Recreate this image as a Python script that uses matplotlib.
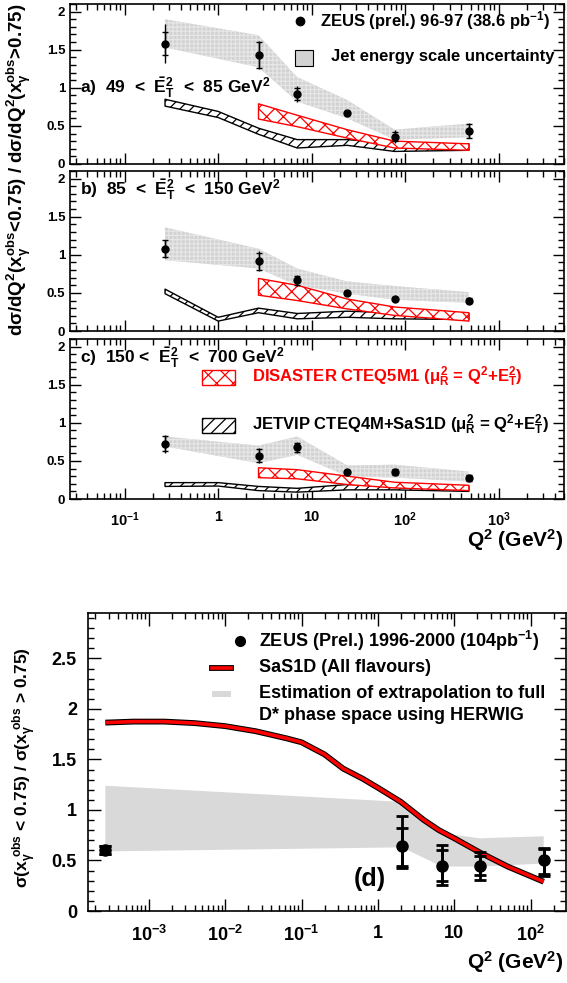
import numpy as np
import matplotlib
matplotlib.use("Agg")
import matplotlib.pyplot as plt
from matplotlib.patches import Rectangle
from matplotlib.lines import Line2D
from matplotlib.ticker import MultipleLocator, FuncFormatter, FixedLocator, NullFormatter

plt.rcParams['font.family'] = ['Liberation Sans', 'DejaVu Sans']
plt.rcParams['font.weight'] = 'bold'
plt.rcParams['mathtext.fontset'] = 'custom'
plt.rcParams['mathtext.rm'] = 'Liberation Sans:bold'
plt.rcParams['mathtext.it'] = 'Liberation Sans:bold'
plt.rcParams['mathtext.bf'] = 'Liberation Sans:bold'
plt.rcParams['hatch.linewidth'] = 0.9

W, H = 567.0, 983.0

# ---- panels a-c: ratio vs Q2 in Et bins ----
q2_pts = [0.27, 2.7, 7.0, 24, 77, 480]
ratio_a = [1.58, 1.43, 0.92, 0.665, 0.36, 0.435]
stat_a = [0.15, 0.17, 0.08, 0.025, 0.06, 0.09]
tot_a = [0.26, 0.18, 0.10, 0.03, 0.08, 0.10]
ratio_b = [1.08, 0.915, 0.665, 0.50, 0.425, 0.40]
stat_b = [0.11, 0.11, 0.06, 0.025, 0.02, 0.03]
tot_b = [0.12, 0.13, 0.07, 0.03, 0.03, 0.04]
ratio_c = [0.725, 0.57, 0.68, 0.355, 0.355, 0.275]
stat_c = [0.10, 0.09, 0.06, 0.02, 0.04, 0.035]
tot_c = [0.12, 0.10, 0.07, 0.02, 0.045, 0.04]

# jet energy scale band (at data points)
jes_hi_a = [1.90, 1.69, 1.14, 0.84, 0.45, 0.53]
jes_lo_a = [1.53, 1.27, 0.82, 0.60, 0.32, 0.35]
jes_hi_b = [1.36, 1.08, 0.82, 0.65, 0.59, 0.51]
jes_lo_b = [0.93, 0.82, 0.60, 0.49, 0.41, 0.37]
jes_hi_c = [0.82, 0.70, 0.82, 0.44, 0.45, 0.36]
jes_lo_c = [0.69, 0.47, 0.58, 0.30, 0.28, 0.23]

# JETVIP
q2_jv = [0.27, 1.0, 2.7, 7.0, 24, 77, 480]
jv_hi_a = [0.85, 0.69, 0.47, 0.32, 0.32, 0.27, 0.265]
jv_lo_a = [0.76, 0.61, 0.39, 0.21, 0.245, 0.165, 0.18]
jv_hi_b = [0.55, 0.18, 0.30, 0.23, 0.26, 0.24, 0.23]
jv_lo_b = [0.49, 0.13, 0.24, 0.16, 0.18, 0.16, 0.15]
jv_hi_c = [0.215, 0.215, 0.165, 0.14, 0.19, 0.18, 0.165]
jv_lo_c = [0.165, 0.17, 0.11, 0.09, 0.12, 0.12, 0.10]

# DISASTER
q2_ds = [2.7, 7.0, 24, 77, 480]
ds_hi_a = [0.79, 0.64, 0.45, 0.30, 0.265]
ds_lo_a = [0.59, 0.49, 0.34, 0.21, 0.18]
ds_hi_b = [0.69, 0.60, 0.42, 0.315, 0.24]
ds_lo_b = [0.47, 0.40, 0.29, 0.205, 0.13]
ds_hi_c = [0.41, 0.385, 0.30, 0.22, 0.18]
ds_lo_c = [0.28, 0.265, 0.19, 0.145, 0.11]

# ---- panel d ----
q2_d = [2.7e-4, 2.05, 6.9, 21.6, 148]
ratio_d = [0.60, 0.645, 0.45, 0.45, 0.50]
stat_d_up = [0.04, 0.18, 0.155, 0.09, 0.11]
stat_d_dn = [0.04, 0.20, 0.155, 0.09, 0.13]
tot_d_up = [0.04, 0.30, 0.20, 0.13, 0.12]
tot_d_dn = [0.04, 0.22, 0.19, 0.14, 0.155]

q2_band_d = [2.7e-4, 2.05, 6.9, 21.6, 148]
band_hi_d = [1.24, 1.08, 0.77, 0.72, 0.74]
band_lo_d = [0.59, 0.63, 0.44, 0.44, 0.47]

q2_sas = [2.7e-4, 6.3e-4, 1.6e-3, 4.0e-3, 0.01, 0.025, 0.063, 0.1, 0.2,
          0.35, 0.63, 1.0, 2.0, 4.0, 6.3, 10, 21.5, 50, 148]
sas = [1.865, 1.875, 1.875, 1.86, 1.83, 1.78, 1.71, 1.67, 1.55,
       1.41, 1.31, 1.22, 1.08, 0.90, 0.80, 0.72, 0.58, 0.44, 0.29]

# tick decades shown
dec_top = [0.1, 1, 10, 100, 1000]
dec_d = [1e-3, 1e-2, 0.1, 1, 10, 100]

JES_COL = '#d2d2d2'


def px_box(x0, y0, x1, y1):
    return [x0 / W, 1 - y1 / H, (x1 - x0) / W, (y1 - y0) / H]


def decade_fmt(v, pos):
    if abs(v - 1) < 1e-9:
        return '1'
    if abs(v - 10) < 1e-9:
        return '10'
    e = int(round(np.log10(v)))
    return r'$\mathbf{10^{%d}}$' % e


def minor_ticks(lo, hi):
    out = []
    for e in range(int(np.floor(np.log10(lo))), int(np.ceil(np.log10(hi))) + 1):
        for s in range(2, 10):
            v = s * 10.0 ** e
            if lo <= v <= hi:
                out.append(v)
    return out


def style(ax, ylen=9, lab=8):
    ax.tick_params(which='both', direction='in', top=True, right=True, width=1, labelsize=lab)
    ax.tick_params(which='major', length=ylen)
    ax.tick_params(which='minor', length=ylen / 2)
    for s in ax.spines.values():
        s.set_linewidth(1.2)


fig = plt.figure(figsize=(W / 100, H / 100), dpi=100)

top_axes = []
boxes = [(70, 4, 564, 164), (70, 171, 564, 331), (70, 339, 564, 499)]
data = [
    (ratio_a, stat_a, tot_a, jes_hi_a, jes_lo_a, jv_hi_a, jv_lo_a, ds_hi_a, ds_lo_a),
    (ratio_b, stat_b, tot_b, jes_hi_b, jes_lo_b, jv_hi_b, jv_lo_b, ds_hi_b, ds_lo_b),
    (ratio_c, stat_c, tot_c, jes_hi_c, jes_lo_c, jv_hi_c, jv_lo_c, ds_hi_c, ds_lo_c),
]
for i, (b, d) in enumerate(zip(boxes, data)):
    ax = fig.add_axes(px_box(*b))
    r, st, tt, jh, jl, vh, vl, dh, dl = d
    ax.fill_between(q2_pts, jl, jh, facecolor=JES_COL, edgecolor='#e6e6e6', hatch='++++', lw=0, zorder=1)
    ax.fill_between(q2_jv, vl, vh, facecolor='white', edgecolor='black', hatch='///', lw=1.0, zorder=2)
    ax.fill_between(q2_ds, dl, dh, facecolor='white', edgecolor='red', hatch='xx', lw=1.0, zorder=3)
    ax.errorbar(q2_pts, r, yerr=tt, fmt='none', ecolor='black', elinewidth=1, zorder=4)
    ax.errorbar(q2_pts, r, yerr=st, fmt='o', color='black', ms=5, elinewidth=1,
                capsize=2.5, capthick=1, zorder=5)
    ax.set_xscale('log')
    ax.set_xlim(0.026, 5000)
    ax.set_ylim(0, 2.1)
    ax.yaxis.set_major_locator(MultipleLocator(0.5))
    ax.yaxis.set_minor_locator(MultipleLocator(0.1))
    ax.yaxis.set_major_formatter(FuncFormatter(lambda v, p: '%g' % v))
    ax.xaxis.set_major_locator(FixedLocator(dec_top))
    ax.xaxis.set_minor_locator(FixedLocator(minor_ticks(0.026, 5000)))
    ax.xaxis.set_minor_formatter(NullFormatter())
    style(ax, ylen=8, lab=9.5)
    if i < 2:
        ax.xaxis.set_major_formatter(NullFormatter())
    else:
        ax.xaxis.set_major_formatter(FuncFormatter(decade_fmt))
        ax.tick_params(axis='x', which='major', pad=8, labelsize=10.5)
    top_axes.append(ax)

lbl = [r'a)  49  <  $\bar{E}^2_T$  <  85 GeV$^2$',
       r'b)  85  <  $\bar{E}^2_T$  <  150 GeV$^2$',
       r'c)  150 <  $\bar{E}^2_T$  <  700 GeV$^2$']
lbl_y = [84, 19, 19]
for ax, t, yy in zip(top_axes, lbl, lbl_y):
    ax.text(10 / 494, 1 - yy / 160, t, transform=ax.transAxes, fontsize=12.5, va='center', ha='left')

# legend panel a
fig.add_artist(Line2D([300 / W], [1 - 21 / H], marker='o', color='black', ms=6, transform=fig.transFigure))
fig.text(320 / W, 1 - 21 / H, r'ZEUS (prel.) 96-97 (38.6 pb$^{-1}$)', fontsize=12, va='center')
fig.add_artist(Rectangle((295 / W, 1 - 66 / H), 18 / W, 16 / H, facecolor=JES_COL,
                         edgecolor='black', lw=0.8, transform=fig.transFigure))
fig.text(331 / W, 1 - 57 / H, 'Jet energy scale uncertainty', fontsize=12, va='center')

# legend panel c
fig.add_artist(Rectangle((202 / W, 1 - 385 / H), 33 / W, 15 / H, facecolor='white', edgecolor='red',
                         hatch='xx', lw=1.0, transform=fig.transFigure))
fig.text(252 / W, 1 - 377 / H, r'DISASTER CTEQ5M1 ($\mu^2_R$ = Q$^2$+E$^2_T$)', fontsize=12,
         va='center', color='red')
fig.add_artist(Rectangle((202 / W, 1 - 433 / H), 33 / W, 15 / H, facecolor='white', edgecolor='black',
                         hatch='///', lw=1.0, transform=fig.transFigure))
fig.text(252 / W, 1 - 425 / H, r'JETVIP CTEQ4M+SaS1D ($\mu^2_R$ = Q$^2$+E$^2_T$)', fontsize=12,
         va='center', color='black')

fig.text(19 / W, 1 - 170 / H,
         r'd$\sigma$/dQ$^2$(x$_\gamma^{obs}$<0.75) / d$\sigma$/dQ$^2$(x$_\gamma^{obs}$>0.75)',
         rotation=90, fontsize=13.5, va='center', ha='center')
fig.text(563 / W, 1 - 540 / H, r'Q$^2$ (GeV$^2$)', fontsize=15, ha='right', va='center')

# ---- panel d ----
axd = fig.add_axes(px_box(88, 613, 566, 911))
axd.fill_between(q2_band_d, band_lo_d, band_hi_d, facecolor='#d9d9d9', lw=0, zorder=1)
axd.plot(q2_sas, sas, color='black', lw=4.2, zorder=2, solid_capstyle='butt')
axd.plot(q2_sas, sas, color='red', lw=2.6, zorder=3, solid_capstyle='butt')
yd = np.array(ratio_d)
axd.errorbar(q2_d, yd, yerr=[tot_d_dn, tot_d_up], fmt='none', ecolor='black', elinewidth=2,
             capsize=4, capthick=2, zorder=4)
axd.errorbar(q2_d, yd, yerr=[stat_d_dn, stat_d_up], fmt='o', color='black', ms=8, elinewidth=2,
             capsize=4, capthick=2, zorder=5)
axd.set_xscale('log')
axd.set_xlim(1.6e-4, 290)
axd.set_ylim(0, 2.95)
axd.yaxis.set_major_locator(MultipleLocator(0.5))
axd.yaxis.set_minor_locator(MultipleLocator(0.1))
axd.yaxis.set_major_formatter(FuncFormatter(lambda v, p: '%g' % v))
axd.xaxis.set_major_locator(FixedLocator(dec_d))
axd.xaxis.set_minor_locator(FixedLocator(minor_ticks(1.6e-4, 290)))
axd.xaxis.set_minor_formatter(NullFormatter())
axd.xaxis.set_major_formatter(FuncFormatter(decade_fmt))
style(axd, ylen=9, lab=13)
axd.tick_params(axis='x', which='major', pad=10)
axd.tick_params(axis='y', which='major', pad=8)

axd.text(282 / 478, 1 - 266 / 298, '(d)', transform=axd.transAxes, fontsize=18, ha='center', va='center')

fig.add_artist(Line2D([240 / W], [1 - 641 / H], marker='o', color='black', ms=7, transform=fig.transFigure))
fig.text(259 / W, 1 - 641 / H, r'ZEUS (Prel.) 1996-2000 (104pb$^{-1}$)', fontsize=13, va='center')
fig.add_artist(Line2D([212 / W, 231 / W], [1 - 668 / H] * 2, color='black', lw=4.2, transform=fig.transFigure))
fig.add_artist(Line2D([212 / W, 231 / W], [1 - 668 / H] * 2, color='red', lw=2.6, transform=fig.transFigure))
fig.text(259 / W, 1 - 668 / H, 'SaS1D (All flavours)', fontsize=13, va='center')
fig.add_artist(Rectangle((212 / W, 1 - 697 / H), 19 / W, 6 / H, facecolor='#d9d9d9', lw=0,
                         transform=fig.transFigure))
fig.text(259 / W, 1 - 694 / H, 'Estimation of extrapolation to full', fontsize=13, va='center')
fig.text(259 / W, 1 - 716 / H, 'D* phase space using HERWIG', fontsize=13, va='center')

fig.text(25 / W, 1 - 768 / H,
         r'$\sigma$(x$_\gamma^{\ obs}$ < 0.75) / $\sigma$(x$_\gamma^{\ obs}$ > 0.75)',
         rotation=90, fontsize=12.5, va='center', ha='center')
fig.text(563 / W, 1 - 962 / H, r'Q$^2$ (GeV$^2$)', fontsize=15, ha='right', va='center')

fig.savefig('out.png', dpi=100)
